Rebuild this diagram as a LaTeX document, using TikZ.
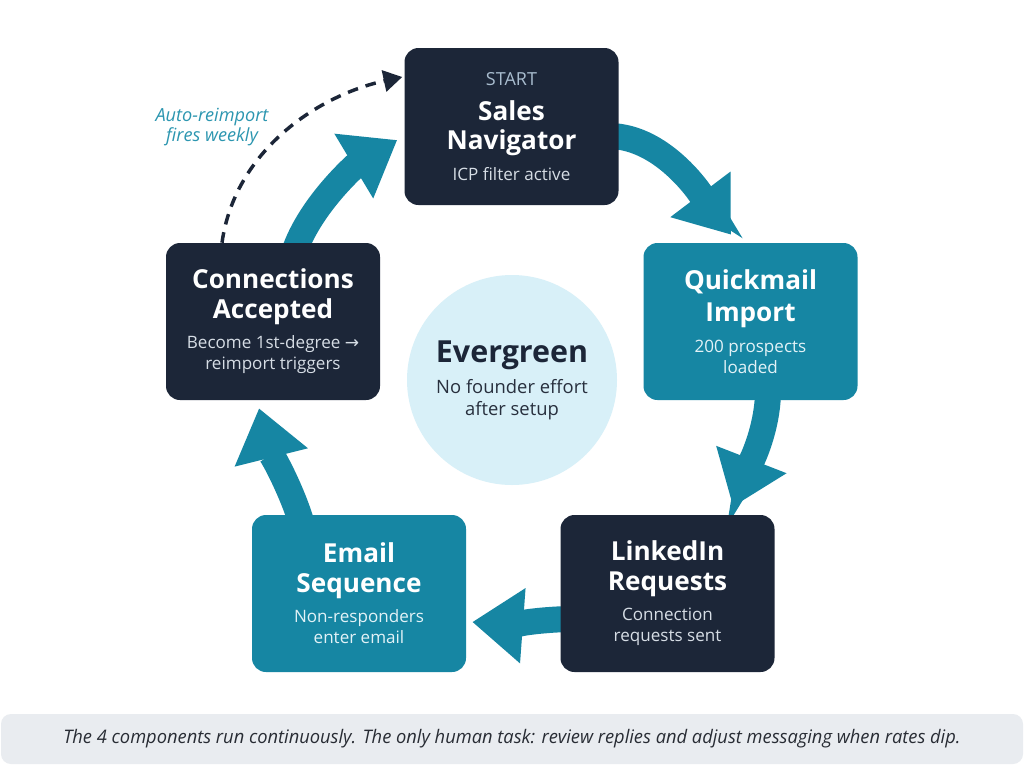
\documentclass[tikz,border=0pt]{standalone}
\usepackage{fontspec}
\setmainfont{Open Sans}
\newfontfamily\symfont{DejaVu Sans}
\usetikzlibrary{arrows.meta,calc,backgrounds}
\definecolor{navy}{RGB}{28,38,56}
\definecolor{cteal}{RGB}{22,134,163}
\definecolor{circfill}{RGB}{216,240,248}
\definecolor{startcol}{RGB}{168,188,206}
\definecolor{subdark}{RGB}{214,221,229}
\definecolor{subteal}{RGB}{226,242,247}
\definecolor{labteal}{RGB}{44,150,176}
\definecolor{capfill}{RGB}{233,236,240}
\definecolor{captext}{RGB}{40,44,52}
\definecolor{evsub}{RGB}{40,48,62}
\newcommand\tfont{\fontsize{19.6}{22}\selectfont\bfseries}
\newcommand\sfont{\fontsize{12.8}{15.75}\selectfont}
\newcommand\ttl[1]{{\tfont\textcolor{white}{#1}}}
\begin{document}
\begin{tikzpicture}[x=0.75pt,y=-0.75pt,
 card/.style={rounded corners=10.5pt, minimum width=160.5pt, minimum height=117.75pt, inner sep=0pt, align=center, font=\sfont},
 darkcard/.style={card, fill=navy, text=subdark},
 tealcard/.style={card, fill=cteal, text=subteal},
 flow/.style={draw=cteal, line width=19.5pt, -{Triangle[length=38pt,width=54pt]}},
 loopback/.style={draw=navy, line width=2.6pt, dash pattern=on 8pt off 6pt, -{Triangle[length=14pt,width=16pt]}},
 looplabel/.style={align=center, text=labteal, font=\fontsize{13.6}{15}\selectfont\itshape},
 hub/.style={circle, fill=circfill, minimum size=157.5pt, inner sep=0pt, align=center, text=evsub, font=\fontsize{13.8}{16.5}\selectfont},
 capbox/.style={rounded corners=7.5pt, fill=capfill, minimum width=766.5pt, minimum height=37.5pt, inner sep=0pt, text=captext}
]
\useasboundingbox (0,0) rectangle (1024,765);

% cards
\node[darkcard] (sn) at (511.5,126.5) {{\fontsize{13.5}{14}\selectfont\color{startcol}START}\\[10.25pt]\ttl{Sales}\\[6.25pt]\ttl{Navigator}\\[7.25pt]ICP filter active};
\node[tealcard] (qi) at (750.5,321.5) {\ttl{Quickmail}\\[6.25pt]\ttl{Import}\\[7.25pt]200 prospects\\loaded};
\node[darkcard] (li) at (667.5,593.5) {\ttl{LinkedIn}\\[6.25pt]\ttl{Requests}\\[7.25pt]Connection\\requests sent};
\node[tealcard] (es) at (359,593.5) {\ttl{Email}\\[6.25pt]\ttl{Sequence}\\[7.25pt]Non-responders\\enter email};
\node[darkcard] (ca) at (273,321.5) {\ttl{Connections}\\[6.25pt]\ttl{Accepted}\\[7.25pt]Become 1st-degree {\symfont →}\\reimport triggers};

% hub
\node[hub] (ev) at (512,380) {{\fontsize{22.8}{26}\selectfont\bfseries\color{navy}Evergreen}\\[6.75pt]No founder effort\\after setup};

% loop label
\node[looplabel] (lab) at (212,127) {Auto-reimport\\fires weekly};

% caption
\node[capbox] (cap) at (512,739) {\resizebox{673pt}{\height}{\fontsize{14}{16}\selectfont\itshape The 4 components run continuously. The only human task: review replies and adjust messaging when rates dip.}};

\begin{scope}[on background layer]
\fill[white] (0,0) rectangle (1024,765);
\draw[flow] ($(sn.east)+(-10,9.5)$) .. controls ($(sn.east)+(47,9.5)$) and ($(qi.north)+(-44.5,-41)$) .. ($(qi.north)+(-19.5,-8)$);
\draw[flow] ($(qi.south)+(17.5,-10)$) .. controls ($(qi.south)+(17.5,32)$) and ($(li.north)+(79.5,-44)$) .. ($(li.north)+(65.5,-8)$);
\draw[flow] ($(li.west)+(10,25.5)$) .. controls ($(li.west)+(-20,26)$) and ($(es.east)+(40,31)$) .. ($(es.east)+(6,28.5)$);
\draw[flow] ($(es.north)+(-57,10)$) .. controls ($(es.north)+(-67,-25)$) and ($(ca.south)+(-4,48)$) .. ($(ca.south)+(-14,8)$);
\draw[flow] ($(ca.north)+(21,10)$) .. controls ($(ca.north)+(37,-38)$) and ($(sn.west)+(-47,37.5)$) .. ($(sn.west)+(-7,13.5)$);
\end{scope}
\draw[loopback] ($(ca.north)+(-51,0)$) .. controls ($(ca.north)+(-38,-93)$) and ($(sn.west)+(-85,-31.5)$) .. ($(sn.west)+(-2,-49.5)$);
\end{tikzpicture}
\end{document}
